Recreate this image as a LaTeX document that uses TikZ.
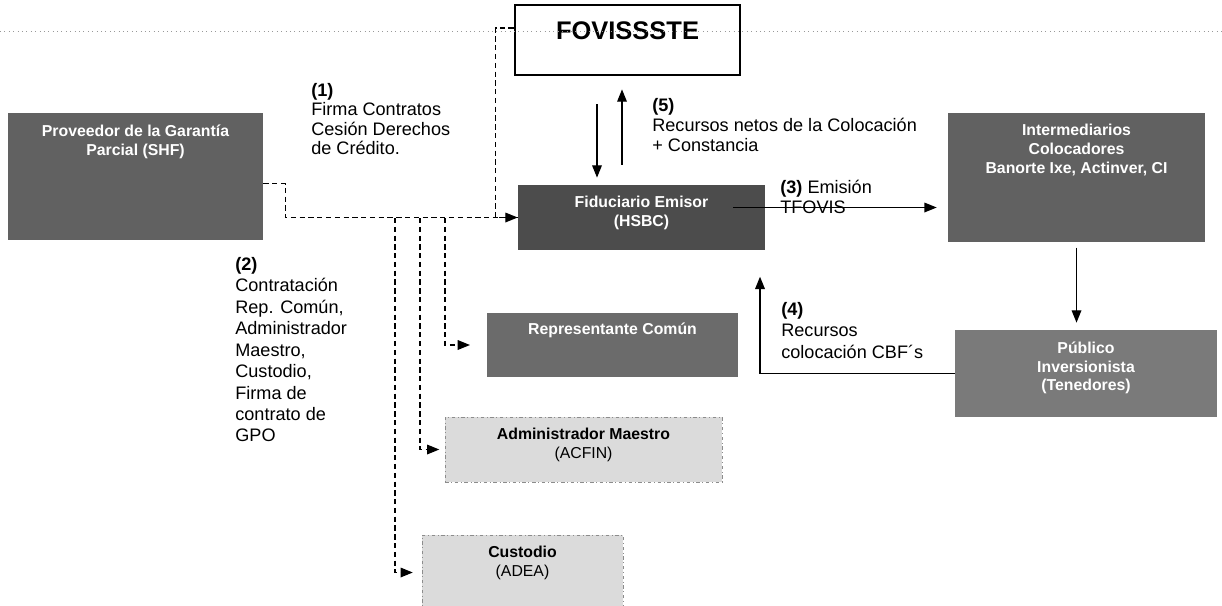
\documentclass[tikz,border=0pt]{standalone}
\usepackage{fontspec}
\setmainfont{Liberation Sans}
\usetikzlibrary{shapes}
\usetikzlibrary{arrows.meta}
\usetikzlibrary{positioning}
\usetikzlibrary{calc}

\begin{document}
\begin{tikzpicture}[x=0.02cm,y=-0.02cm]
\tikzstyle{darkbox}=[rectangle,inner sep=0pt,fill=black!62]
\tikzstyle{lightbox}=[rectangle,inner sep=0pt,fill=black!14,draw=black!45,line width=0.5pt,
        dash pattern=on 2pt off 1.5pt on 0.5pt off 1.5pt]
\tikzstyle{boxtext}=[inner sep=0pt,align=center,anchor=north,yshift=-6.5pt,
        font=\fontsize{9}{10.8}\selectfont\bfseries]
\tikzstyle{wtext}=[boxtext,text=white]
\tikzstyle{note}=[inner sep=0pt,align=left,anchor=north west,font=\fontsize{10.3}{12.2}\selectfont]
%styles des flèches
\tikzstyle{flow}=[-{Triangle[length=7pt,width=5.5pt]},line width=0.7pt]
\tikzstyle{dline}=[line width=0.7pt,dash pattern=on 3pt off 2pt]
\tikzstyle{dflow}=[flow,dash pattern=on 3pt off 2pt]

\useasboundingbox (0,0) rectangle (1222,605);
\clip (0,0) rectangle (1222,605);

%placement des nœuds
\node[rectangle,draw,line width=1.6pt,fill=white,minimum width=4.5cm,minimum height=1.4cm,
      label={[boxtext,yshift=-3.5pt,font=\fontsize{14.5}{17}\selectfont\bfseries]north:FOVISSSTE}] (fov) at (627.5,40) {};
\node[darkbox,minimum width=5.1cm,minimum height=2.54cm,
      label={[wtext]north:{Proveedor de la Garantía\\Parcial (SHF)}}] (prov) at (135.5,176.5) {};
\node[darkbox,fill=black!70,minimum width=4.94cm,minimum height=1.3cm,
      label={[wtext]north:{Fiduciario Emisor\\(HSBC)}}] (fid) at (641.5,217.5) {};
\node[darkbox,minimum width=5.14cm,minimum height=2.58cm,
      label={[wtext]north:{Intermediarios\\Colocadores\\Banorte Ixe, Actinver, CI}}] (inter) at (1076.5,177.5) {};
\node[darkbox,fill=black!52,minimum width=5.24cm,minimum height=1.74cm,
      label={[wtext]north:{Público\\Inversionista\\(Tenedores)}}] (pub) at (1086,373.5) {};
\node[darkbox,fill=black!58,minimum width=5.02cm,minimum height=1.28cm,
      label={[wtext,yshift=1pt]north:{Representante Común}}] (rep) at (612.5,345) {};
\node[lightbox,minimum width=5.54cm,minimum height=1.3cm,
      label={[boxtext]north:{Administrador Maestro\\\textmd{(ACFIN)}}}] (adm) at (583.5,449.5) {};
\node[lightbox,minimum width=4.02cm,minimum height=1.5cm,
      label={[boxtext]north:{Custodio\\\textmd{(ADEA)}}}] (cus) at (522.5,572.5) {};
\draw[black!40,line width=0.5pt,dotted] (0,31) -- (1222,31);

%textes des flèches
\node[note,font=\fontsize{10.3}{11}\selectfont] (lab1) at (311,83) {\textbf{(1)}\\Firma Contratos\\Cesión Derechos\\de Crédito.};
\node[note] (lab2) at (235,257) {\textbf{(2)}\\Contratación\\Rep. Común,\\Administrador\\Maestro,\\Custodio,\\Firma de\\contrato de\\GPO};
\node[note,font=\fontsize{10.3}{11.5}\selectfont] (lab3) at (780,180) {\textbf{(3)} Emisión\\TFOVIS};
\node[note] (lab4) at (781,302) {\textbf{(4)}\\Recursos\\colocación CBF´s};
\node[note,font=\fontsize{10.3}{11.5}\selectfont] (lab5) at (652,98) {\textbf{(5)}\\Recursos netos de la Colocación\\+ Constancia};

%placement des flèches
\coordinate (b1) at (395,218);
\coordinate (b2) at (420,218);
\coordinate (b3) at (445,218);
\coordinate (c5a) at (597,0);
\coordinate (c5b) at (622,0);
\coordinate (c4) at (760,0);
\draw[dline] ([yshift=6.8pt]fov.west) -- ++(-18,0) |- (fid.west);
\draw[dflow] ([yshift=-4pt]prov.east) -- ++(22,0) |- (fid.west);
\draw[dflow,shorten >=9.5pt] (b3) |- (rep.west);
\draw[dflow,shorten >=3pt] (b2) |- (adm.west);
\draw[dflow,shorten >=5pt] (b1) |- (cus.west);
\draw[flow] ([yshift=-15.9pt]fov.south -| c5a) -- ([yshift=4pt]fid.north -| c5a);
\draw[flow] ([yshift=11.3pt]fid.north -| c5b) -- ([yshift=-7.4pt]fov.south -| c5b);
\draw[flow] ($(fid.east)+(-32,-10)$) -- ($(inter.west)+(-11,30)$);
\draw[flow,shorten <=3pt,shorten >=4pt] (inter.south) -- (inter.south |- pub.north);
\draw[flow] (pub.west) -| ([yshift=-15pt]fid.south -| c4);
\end{tikzpicture}
\end{document}
